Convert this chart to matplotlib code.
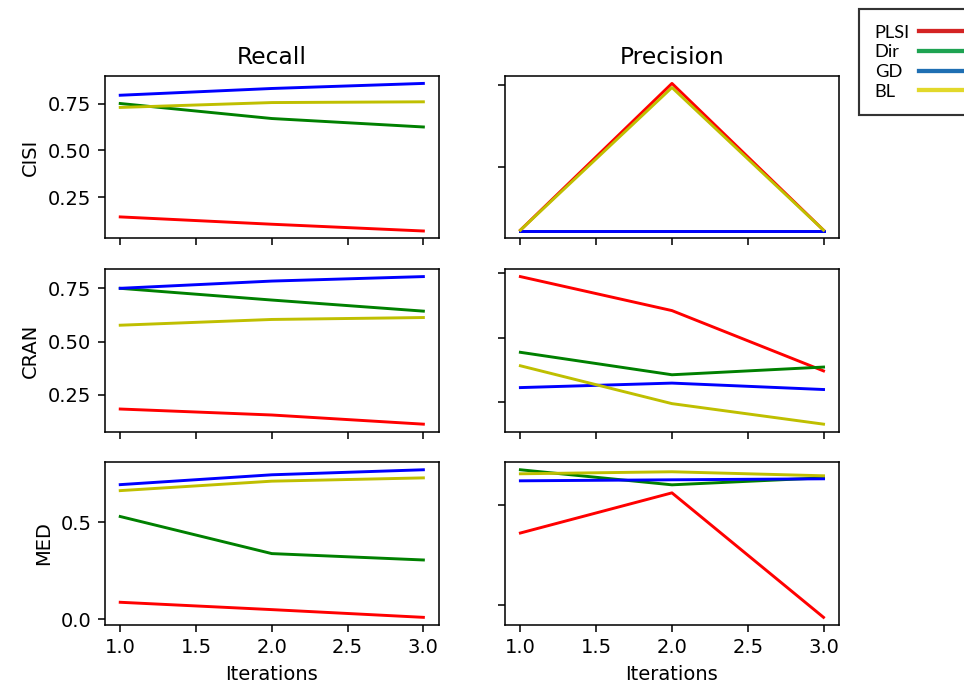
import matplotlib
matplotlib.use("Agg")
import matplotlib.pyplot as plt
from matplotlib.lines import Line2D

iterations = [1, 2, 3]
datasets = ["CISI", "CRAN", "MED"]
methods = ["PLSI", "Dir", "GD", "BL"]
line_colors = {"PLSI": "r", "Dir": "g", "GD": "b", "BL": "y"}
legend_colors = {"PLSI": "#d42424", "Dir": "#1ea352", "GD": "#1f6fb3", "BL": "#e2d82a"}

# Recall values
recall_cisi = {"PLSI": [0.146, 0.107, 0.071], "Dir": [0.750, 0.670, 0.625],
               "GD": [0.794, 0.830, 0.857], "BL": [0.729, 0.755, 0.759]}
recall_cran = {"PLSI": [0.184, 0.156, 0.113], "Dir": [0.750, 0.695, 0.643],
               "GD": [0.750, 0.784, 0.805], "BL": [0.577, 0.604, 0.613]}
recall_med = {"PLSI": [0.087, 0.049, 0.009], "Dir": [0.531, 0.339, 0.306],
              "GD": [0.696, 0.747, 0.773], "BL": [0.665, 0.714, 0.731]}

# Precision values (tick labels hidden in the original; scale estimated)
precision_cisi = {"PLSI": [0.0023, 0.0202, 0.0023], "Dir": [0.0022, 0.0022, 0.0022],
                  "GD": [0.0022, 0.0022, 0.0022], "BL": [0.0023, 0.0197, 0.0023]}
precision_cran = {"PLSI": [0.295, 0.242, 0.148], "Dir": [0.177, 0.142, 0.154],
                  "GD": [0.122, 0.129, 0.119], "BL": [0.156, 0.097, 0.065]}
precision_med = {"PLSI": [0.172, 0.212, 0.088], "Dir": [0.235, 0.220, 0.227],
                 "GD": [0.224, 0.225, 0.226], "BL": [0.231, 0.233, 0.229]}

recall = [recall_cisi, recall_cran, recall_med]
precision = [precision_cisi, precision_cran, precision_med]

recall_ticks = [[0.25, 0.50, 0.75], [0.25, 0.50, 0.75], [0.0, 0.5]]
precision_ticks = [[0.01, 0.02], [0.1, 0.2, 0.3], [0.1, 0.2]]
x_ticks = [1.0, 1.5, 2.0, 2.5, 3.0]

DPI = 140
fig, axes = plt.subplots(3, 2, figsize=(964 / DPI, 685 / DPI), dpi=DPI, sharex=True)
fig.subplots_adjust(left=0.109, right=0.870, top=0.889, bottom=0.088,
                    wspace=0.20, hspace=0.19)

for r in range(3):
    axl, axr = axes[r, 0], axes[r, 1]
    for m in methods:
        axl.plot(iterations, recall[r][m], color=line_colors[m])
        axr.plot(iterations, precision[r][m], color=line_colors[m])
    axl.set_yticks(recall_ticks[r])
    axr.set_yticks(precision_ticks[r])
    axr.set_yticklabels([])
    axl.set_ylabel(datasets[r])

axes[0, 0].set_title("Recall")
axes[0, 1].set_title("Precision")
for ax in axes[2]:
    ax.set_xticks(x_ticks)
    ax.set_xlabel("Iterations")

LEG_FS = 9.4
PAD = 0.5
handles = [Line2D([], [], color=legend_colors[m], lw=2.2) for m in methods]
leg = fig.legend(handles, methods, loc="upper left",
                 bbox_to_anchor=(859 / 964, 1 - 9 / 685),
                 markerfirst=False, fancybox=False, frameon=True,
                 handlelength=3.2, handletextpad=PAD, labelspacing=0.2,
                 borderpad=0.86, borderaxespad=0,
                 prop={"family": ["Lato", "DejaVu Sans"], "size": LEG_FS})
leg.get_frame().set_edgecolor("black")
leg.get_frame().set_linewidth(1.1)

# left-align the labels and keep the line samples in one column
fig.canvas.draw()
renderer = fig.canvas.get_renderer()
widths = [t.get_window_extent(renderer).width for t in leg.get_texts()]
maxw = max(widths)
for col in leg._legend_handle_box.get_children():
    col.align = "left"
    for item, w in zip(col.get_children(), widths):
        item.sep = PAD * LEG_FS + (maxw - w) * 72 / DPI

fig.savefig("out.png", dpi=DPI)
